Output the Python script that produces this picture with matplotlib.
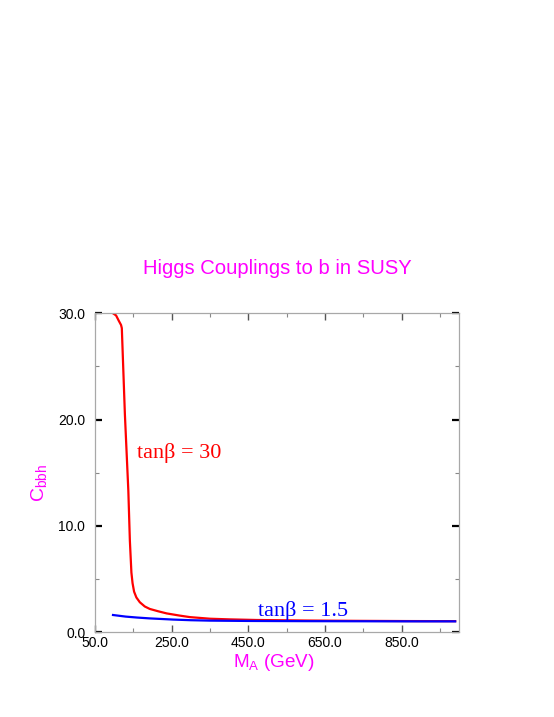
import matplotlib
matplotlib.use("Agg")
import matplotlib.pyplot as plt
from matplotlib.ticker import FormatStrFormatter

plt.rcParams['font.family'] = ['Liberation Sans', 'DejaVu Sans']
plt.rcParams['mathtext.default'] = 'regular'

# Data
ma_red = [97, 105, 112, 118, 120, 128, 137, 141, 145, 148, 152, 158, 167, 180, 193, 215,
          237, 270, 298, 350, 400, 472, 601, 732, 860, 990]
c_red = [30.0, 29.8, 29.3, 28.9, 28.6, 20.5, 13.3, 8.6, 5.6, 4.6, 3.8, 3.25, 2.8, 2.4, 2.17, 1.95,
         1.75, 1.55, 1.4, 1.25, 1.19, 1.13, 1.08, 1.05, 1.03, 1.02]
ma_blue = [97, 130, 160, 193, 254, 300, 350, 450, 600, 750, 900, 990]
c_blue = [1.6, 1.45, 1.36, 1.28, 1.17, 1.11, 1.07, 1.04, 1.02, 1.01, 1.0, 1.0]

x_major = [50, 250, 450, 650, 850]
x_minor = [150, 350, 550, 750, 950]
y_major = [0, 10, 20, 30]
y_minor = [5, 15, 25]

magenta = '#ff00ff'
W, H = 554, 717
fig = plt.figure(figsize=(W / 100, H / 100), dpi=100)
ax = fig.add_axes([95 / W, 1 - 632 / H, (459 - 95) / W, (632 - 313.3) / H])

ax.plot(ma_red, c_red, color='#ff0000', lw=1.6, solid_joinstyle='round')
ax.plot(ma_blue, c_blue, color='#0000ff', lw=1.6, solid_joinstyle='round')

ax.set_xlim(50, 1000)
ax.set_ylim(0, 30)
ax.set_xticks(x_major)
ax.set_xticks(x_minor, minor=True)
ax.set_yticks(y_major)
ax.set_yticks(y_minor, minor=True)
ax.xaxis.set_major_formatter(FormatStrFormatter('%.1f'))
ax.yaxis.set_major_formatter(FormatStrFormatter('%.1f'))

for s in ax.spines.values():
    s.set_color('#a8a8a8')
    s.set_linewidth(0.9)

ax.tick_params(axis='both', which='both', direction='in', top=True, right=True, labelsize=10)
ax.tick_params(axis='y', which='major', length=5, width=1.6, color='black', pad=7)
ax.tick_params(axis='y', which='minor', length=3, width=0.8, color='#888888')
ax.tick_params(axis='x', which='major', length=5, width=1.0, color='#555555', pad=3.2)
ax.tick_params(axis='x', which='minor', length=3, width=0.8, color='#888888')

ax.text(159.5, 16.35, 'tanβ = 30', family=['Liberation Serif', 'DejaVu Serif'],
        color='#ff0000', fontsize=16, va='baseline')
ax.text(476, 1.55, 'tanβ = 1.5', family=['Liberation Serif', 'DejaVu Serif'],
        color='#0000ff', fontsize=16, va='baseline')

fig.text(0.5, 1 - 274 / H, 'Higgs Couplings to b in SUSY', color=magenta,
         fontsize=14.6, ha='center', va='baseline')
fig.text(39 / W, 1 - 483 / H, r'C$_{bbh}$', color=magenta, fontsize=14,
         rotation=90, ha='center', va='center')
fig.text(273.5 / W, 1 - 667 / H, r'M$_A$ (GeV)', color=magenta, fontsize=13.6,
         ha='center', va='baseline')

fig.savefig('out.png', dpi=100)
